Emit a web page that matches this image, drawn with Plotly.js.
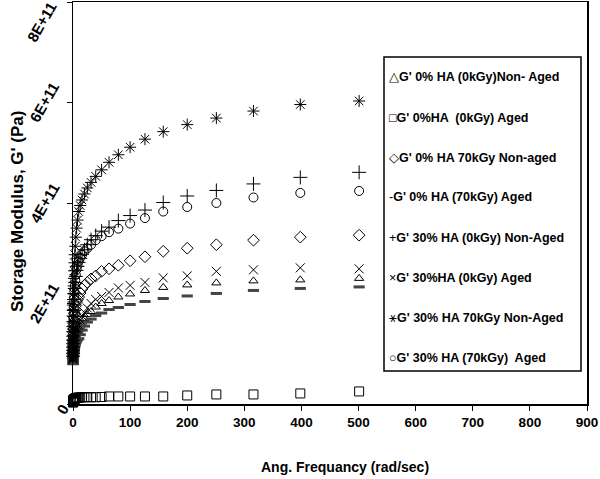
<!DOCTYPE html>
<html>
<head>
<meta charset="utf-8">
<script src="https://cdn.plot.ly/plotly-3.0.1.min.js"></script>
<style>html,body{margin:0;padding:0;background:#fff;}#chart{width:600px;height:479px;}</style>
</head>
<body>
<div id="chart"></div>
<script>
// Angular frequency (rad/sec)
const freq = [0.1,0.126,0.158,0.2,0.251,0.316,0.398,0.501,0.631,0.794,
  1,1.26,1.58,2,2.51,3.16,3.98,5.01,6.31,7.94,
  10,12.6,15.8,20,25.1,31.6,39.8,50.1,63.1,79.4,100,126,158,200,251,316,398,501];

// Storage modulus G' in units of 1E+11 Pa
const g0_0kGy_nonAged = [0.87,0.88,0.89,0.91,0.93,0.95,0.97,0.99,1.01,1.04,1.07,1.1,1.14,1.18,1.22,1.27,1.32,1.37,1.41,1.44,
  1.47,1.55,1.63,1.70,1.78,1.84,1.93,2.00,2.06,2.13,2.19,2.26,2.32,2.37,2.41,2.45,2.47,2.50];
const g0_0kGy_aged = [0.03,0.035,0.04,0.045,0.05,0.055,0.06,0.065,0.07,0.075,0.08,0.085,0.09,0.095,0.1,0.105,0.11,0.115,0.12,0.125,
  0.13,0.13,0.135,0.135,0.135,0.135,0.135,0.14,0.15,0.15,0.15,0.15,0.15,0.17,0.19,0.19,0.21,0.25];
const g0_70kGy_nonAged = [0.9,0.94,0.98,1.02,1.07,1.12,1.17,1.23,1.29,1.35,1.42,1.49,1.56,1.64,1.72,1.8,1.88,1.96,2.03,2.08,
  2.13,2.21,2.29,2.36,2.42,2.49,2.55,2.64,2.69,2.76,2.85,2.93,3.04,3.10,3.17,3.26,3.32,3.36];
const g0_70kGy_aged = [0.8,0.81,0.82,0.83,0.85,0.87,0.89,0.91,0.93,0.95,0.98,1.01,1.04,1.07,1.1,1.14,1.18,1.22,1.25,1.28,
  1.30,1.38,1.47,1.55,1.63,1.69,1.76,1.81,1.88,1.92,1.98,2.04,2.10,2.15,2.20,2.26,2.30,2.33];
const g30_0kGy_nonAged = [0.95,1.01,1.07,1.13,1.2,1.27,1.35,1.44,1.54,1.64,1.75,1.86,1.97,2.08,2.19,2.3,2.42,2.54,2.66,2.74,
  2.82,2.90,2.98,3.07,3.17,3.27,3.35,3.44,3.52,3.65,3.75,3.86,4.01,4.14,4.25,4.38,4.51,4.61];
const g30_0kGy_aged = [0.88,0.9,0.92,0.94,0.96,0.99,1.02,1.05,1.08,1.12,1.16,1.2,1.24,1.29,1.34,1.39,1.44,1.49,1.53,1.56,
  1.58,1.67,1.75,1.82,1.91,2.00,2.08,2.14,2.22,2.31,2.36,2.42,2.51,2.55,2.64,2.67,2.71,2.69];
const g30_70kGy_nonAged = [0.95,1.05,1.15,1.26,1.37,1.49,1.61,1.74,1.88,2.03,2.2,2.35,2.5,2.65,2.81,2.97,3.14,3.32,3.5,3.66,
  3.83,3.95,4.06,4.18,4.30,4.41,4.53,4.66,4.81,4.96,5.11,5.27,5.42,5.56,5.69,5.83,5.96,6.03];
const g30_70kGy_aged = [0.95,1.02,1.09,1.16,1.23,1.31,1.4,1.49,1.59,1.69,1.8,1.91,2.02,2.13,2.24,2.35,2.46,2.57,2.68,2.76,
  2.84,2.91,2.97,3.04,3.10,3.17,3.26,3.34,3.42,3.49,3.59,3.70,3.83,3.92,4.00,4.11,4.20,4.24];

const UNIT = 1e11;

const seriesNames = [
  "G' 0% HA (0kGy)Non- Aged",
  "G' 0%HA  (0kGy) Aged",
  "G' 0% HA 70kGy Non-aged",
  "G' 0% HA (70kGy) Aged",
  "G' 30% HA (0kGy) Non-Aged",
  "G' 30%HA (0kGy) Aged",
  "G' 30% HA 70kGy Non-Aged",
  "G' 30% HA (70kGy)  Aged"
];
// symbols typed in the reference's legend text box
const legendGlyphs = ["\u25B3", "\u25A1", "\u25C7", "-", "+", "\u00D7", "\u26B9", "\u25CB"];
const seriesValues = [g0_0kGy_nonAged, g0_0kGy_aged, g0_70kGy_nonAged, g0_70kGy_aged,
  g30_0kGy_nonAged, g30_0kGy_aged, g30_70kGy_nonAged, g30_70kGy_aged];

const yTickVals = [0, 2e11, 4e11, 6e11, 8e11];
const yTickText = ["0", "2E+11", "4E+11", "6E+11", "8E+11"];

const markerStyles = [
  {symbol: 'triangle-up-open', size: 8, color: '#000', line: {width: 1, color: '#000'}},
  {symbol: 'square-open', size: 9, color: '#000', line: {width: 1, color: '#000'}},
  {symbol: 'diamond-open', size: 9, color: '#000', line: {width: 1, color: '#000'}},
  {symbol: 'line-ew-open', size: 8, color: '#444', line: {width: 3, color: '#444'}},
  {symbol: 'cross-thin-open', size: 10, color: '#000', line: {width: 1, color: '#000'}},
  {symbol: 'x-thin-open', size: 9, color: '#000', line: {width: 1, color: '#000'}},
  {symbol: 'asterisk-open', size: 10, color: '#000', line: {width: 1, color: '#000'}},
  {symbol: 'circle-open', size: 9, color: '#000', line: {width: 1, color: '#000'}}
];

const traces = seriesNames.map((name, i) => ({
  type: 'scatter',
  mode: 'markers',
  name: name,
  x: freq,
  y: seriesValues[i].map(v => v * UNIT),
  marker: markerStyles[i],
  cliponaxis: false
}));

const FAMILY = 'Liberation Sans, Arial, sans-serif';
const boldFont = (size) => ({family: FAMILY, size: size, color: '#000', weight: 'bold'});
const plainFont = (size) => ({family: FAMILY, size: size, color: '#000', weight: 'normal'});

// plot area in pixels: left 73, right 587, top 2, bottom 404
const L = 73, R = 587, T = 2, B = 404;
const px = (x) => (x - L) / (R - L);
const py = (y) => (B - y) / (B - T);

const annotations = [];
// y tick labels (rotated, as in the reference)
yTickVals.forEach((v, i) => {
  const isZero = v === 0;
  const isTop = i === yTickVals.length - 1;
  annotations.push({
    xref: 'paper', yref: 'y',
    x: px(isZero ? 62 : (isTop ? 41 : 44)), y: v,
    xanchor: 'center', yanchor: 'middle',
    yshift: isTop ? -20 : (isZero ? -5 : 0),
    text: yTickText[i], textangle: -60, showarrow: false,
    font: boldFont(15)
  });
});
// axis titles
annotations.push({xref: 'paper', yref: 'paper', x: px(345), y: py(467), xanchor: 'center', yanchor: 'middle',
  text: 'Ang. Frequancy (rad/sec)', showarrow: false, font: boldFont(14)});
annotations.push({xref: 'paper', yref: 'paper', x: px(18), y: py(212), xanchor: 'center', yanchor: 'middle',
  text: "Storage Modulus, G' (Pa)", textangle: -90, showarrow: false, font: boldFont(17)});
// legend text box
const legendRowsY = [77, 118, 158, 197, 238, 278, 318, 358];
seriesNames.forEach((name, i) => {
  annotations.push({xref: 'paper', yref: 'paper', x: px(387), y: py(legendRowsY[i]), xanchor: 'left', yanchor: 'middle',
    text: legendGlyphs[i] + '<b>' + name + '</b>', showarrow: false,
    font: plainFont(12.5)});
});

const layout = {
  width: 600,
  height: 479,
  margin: {l: L, r: 600 - R, t: T, b: 479 - B},
  paper_bgcolor: '#fff',
  plot_bgcolor: '#fff',
  showlegend: false,
  xaxis: {
    range: [0, 900],
    tick0: 0, dtick: 100,
    showgrid: false, zeroline: false,
    showline: true, mirror: true, linecolor: '#000', linewidth: 1.5,
    ticks: 'outside', ticklen: 5, tickwidth: 1, tickcolor: '#000',
    tickfont: boldFont(13.5),
    automargin: false
  },
  yaxis: {
    range: [0, 8e11],
    tickvals: yTickVals,
    showticklabels: false,
    showgrid: false, zeroline: false,
    showline: true, mirror: true, linecolor: '#000', linewidth: 1.5,
    ticks: 'outside', ticklen: 5, tickwidth: 1, tickcolor: '#000',
    automargin: false
  },
  shapes: [{type: 'rect', xref: 'paper', yref: 'paper', x0: px(384), x1: px(581), y0: py(371), y1: py(57),
    line: {color: '#000', width: 1.5}, fillcolor: 'rgba(0,0,0,0)', layer: 'above'}],
  annotations: annotations
};

Plotly.newPlot('chart', traces, layout, {displayModeBar: false, staticPlot: true});
</script>
</body>
</html>
